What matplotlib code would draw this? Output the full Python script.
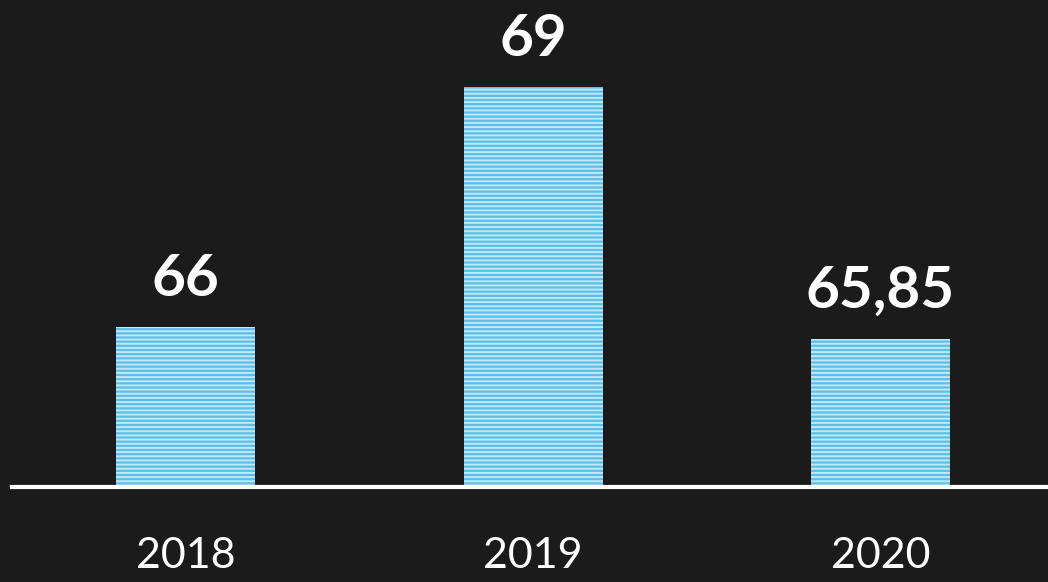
import matplotlib.pyplot as plt

years = ["2018", "2019", "2020"]
values = [66, 69, 65.85]
labels = ["66", "69", "65,85"]

bg = "#1b1b1b"
bar_color = "#5bbfe6"
stripe_color = "#c2e8f8"

plt.rcParams['hatch.linewidth'] = 1.4
plt.rcParams['font.family'] = ['Lato', 'DejaVu Sans']

fig = plt.figure(figsize=(10.48, 5.82), dpi=100, facecolor=bg)
ax = fig.add_axes([12 / 1048, 95 / 582, 1036 / 1048, 487 / 582])
ax.set_facecolor(bg)

x = range(len(years))
ax.bar(x, values, width=0.4, bottom=0, color=bar_color, edgecolor=stripe_color,
       linewidth=0, hatch="----")

for i, (v, lab) in enumerate(zip(values, labels)):
    ax.annotate(lab, (i, v), xytext=(0, 15), textcoords="offset points",
                ha="center", va="bottom", color="white", fontsize=42,
                fontweight="bold")

ax.set_xlim(-0.5, 2.482)
ax.set_ylim(64, 70.09)
ax.set_yticks([])
ax.set_xticks(list(x))
ax.set_xticklabels(years, color="white", fontsize=31)
ax.tick_params(axis="x", length=0, pad=36)
for side in ["top", "left", "right"]:
    ax.spines[side].set_visible(False)
ax.spines["bottom"].set_color("white")
ax.spines["bottom"].set_linewidth(3)

fig.savefig("out.png", dpi=100, facecolor=bg)
